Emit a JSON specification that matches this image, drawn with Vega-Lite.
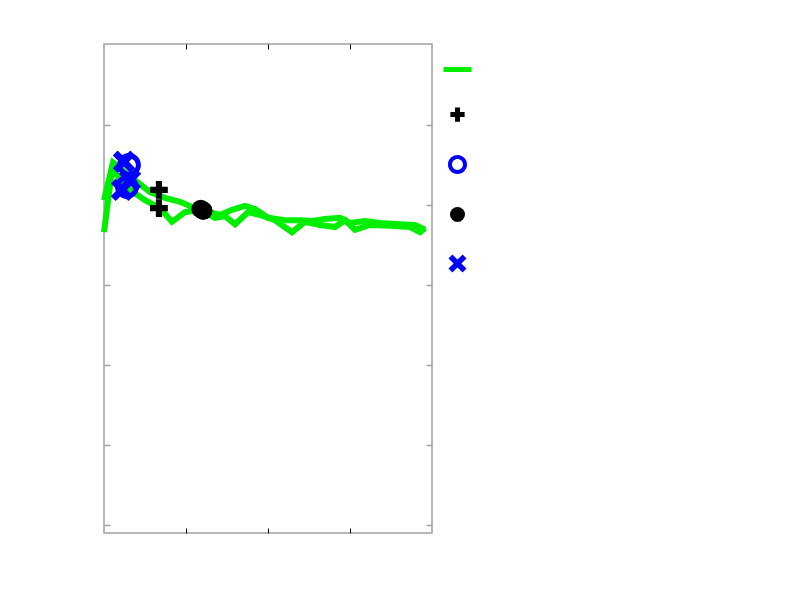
{
  "$schema": "https://vega.github.io/schema/vega-lite/v6.json",
  "width": 328,
  "height": 489,
  "autosize": {"type": "none"},
  "padding": {"left": 104, "top": 44, "right": 368, "bottom": 67},
  "background": "white",
  "config": {"view": {"stroke": "#a0a0a0", "strokeWidth": 1.5}},
  "datasets": {
    "lines": [
      {"part": "A", "x": 0, "y": 4.06},
      {"part": "A", "x": 0.11, "y": 4.53},
      {"part": "A", "x": 0.195, "y": 4.46},
      {"part": "A", "x": 0.378, "y": 4.31},
      {"part": "A", "x": 0.561, "y": 4.16},
      {"part": "A", "x": 0.744, "y": 4.09},
      {"part": "A", "x": 0.927, "y": 4.04},
      {"part": "A", "x": 1.11, "y": 3.96},
      {"part": "A", "x": 1.293, "y": 3.91},
      {"part": "A", "x": 1.415, "y": 3.875},
      {"part": "A", "x": 1.561, "y": 3.94},
      {"part": "A", "x": 1.72, "y": 3.99},
      {"part": "A", "x": 1.841, "y": 3.95},
      {"part": "A", "x": 2.0, "y": 3.84},
      {"part": "A", "x": 2.207, "y": 3.81},
      {"part": "A", "x": 2.39, "y": 3.81},
      {"part": "A", "x": 2.537, "y": 3.8},
      {"part": "A", "x": 2.695, "y": 3.825},
      {"part": "A", "x": 2.878, "y": 3.84},
      {"part": "A", "x": 3.0, "y": 3.775},
      {"part": "A", "x": 3.183, "y": 3.8},
      {"part": "A", "x": 3.366, "y": 3.775},
      {"part": "A", "x": 3.61, "y": 3.76},
      {"part": "A", "x": 3.793, "y": 3.75},
      {"part": "A", "x": 3.915, "y": 3.69},
      {"part": "B", "x": 0, "y": 3.66},
      {"part": "B", "x": 0.098, "y": 4.44},
      {"part": "B", "x": 0.171, "y": 4.36},
      {"part": "B", "x": 0.317, "y": 4.19},
      {"part": "B", "x": 0.5, "y": 4.06},
      {"part": "B", "x": 0.683, "y": 3.96},
      {"part": "B", "x": 0.829, "y": 3.79},
      {"part": "B", "x": 0.988, "y": 3.91},
      {"part": "B", "x": 1.171, "y": 3.94},
      {"part": "B", "x": 1.354, "y": 3.84},
      {"part": "B", "x": 1.476, "y": 3.86},
      {"part": "B", "x": 1.598, "y": 3.76},
      {"part": "B", "x": 1.756, "y": 3.91},
      {"part": "B", "x": 1.902, "y": 3.875},
      {"part": "B", "x": 2.085, "y": 3.81},
      {"part": "B", "x": 2.293, "y": 3.66},
      {"part": "B", "x": 2.451, "y": 3.79},
      {"part": "B", "x": 2.634, "y": 3.75},
      {"part": "B", "x": 2.817, "y": 3.725},
      {"part": "B", "x": 2.939, "y": 3.81},
      {"part": "B", "x": 3.061, "y": 3.69},
      {"part": "B", "x": 3.244, "y": 3.75},
      {"part": "B", "x": 3.488, "y": 3.74},
      {"part": "B", "x": 3.732, "y": 3.725},
      {"part": "B", "x": 3.854, "y": 3.66},
      {"part": "B", "x": 3.915, "y": 3.71}
    ],
    "points": [
      {"series": "plus", "x": 0.67, "y": 4.19},
      {"series": "plus", "x": 0.67, "y": 3.96},
      {"series": "circle", "x": 0.305, "y": 4.5},
      {"series": "circle", "x": 0.28, "y": 4.225},
      {"series": "dot", "x": 1.18, "y": 3.95},
      {"series": "dot", "x": 1.21, "y": 3.93},
      {"series": "x", "x": 0.244, "y": 4.54},
      {"series": "x", "x": 0.22, "y": 4.19},
      {"series": "x", "x": 0.317, "y": 4.31}
    ]
  },
  "layer": [
    {
      "data": {"name": "lines"},
      "mark": {"type": "line", "stroke": "#00ee00", "strokeWidth": 6, "strokeCap": "butt", "strokeJoin": "miter", "opacity": 1},
      "encoding": {
        "x": {"field": "x", "type": "quantitative", "scale": {"domain": [0, 4], "nice": false, "zero": false},
          "axis": {"orient": "bottom", "labels": false, "title": null, "domain": false, "grid": false, "values": [1, 2, 3], "tickSize": -5, "tickColor": "black", "tickWidth": 1}},
        "y": {"field": "y", "type": "quantitative", "scale": {"domain": [-0.1, 6.0125], "nice": false, "zero": false},
          "axis": {"orient": "left", "labels": false, "title": null, "domain": false, "grid": false, "values": [0, 1, 2, 3, 4, 5], "tickSize": -6, "tickColor": "#a0a0a0", "tickWidth": 1.5}},
        "detail": {"field": "part", "type": "nominal"}
      }
    },
    {
      "data": {"name": "points"},
      "mark": {"type": "point", "opacity": 1, "filled": true, "strokeWidth": 0, "size": 350},
      "encoding": {
        "x": {"field": "x", "type": "quantitative",
          "axis": {"orient": "top", "labels": false, "title": null, "domain": false, "grid": false, "values": [1, 2, 3], "tickSize": -5, "tickColor": "black", "tickWidth": 1}},
        "y": {"field": "y", "type": "quantitative",
          "axis": {"orient": "right", "labels": false, "title": null, "domain": false, "grid": false, "values": [0, 1, 2, 3, 4, 5], "tickSize": -6, "tickColor": "#a0a0a0", "tickWidth": 1.5}},
        "fill": {"field": "series", "type": "nominal",
          "scale": {"domain": ["line", "plus", "circle", "dot", "x"], "range": ["#00ee00", "#000000", "#0000ff", "#000000", "#0000ff"]},
          "legend": {"orient": "none", "legendX": 346, "legendY": 18, "title": null, "labelExpr": "''", "rowPadding": 32, "symbolOffset": 0, "padding": 0, "symbolSize": 225, "symbolStrokeWidth": 0}},
        "shape": {"field": "series", "type": "nominal",
          "scale": {"domain": ["line", "plus", "circle", "dot", "x"], "range": [
            "M-1.87,-0.33L1.87,-0.33L1.87,0.33L-1.87,0.33Z",
            "M-0.95,-0.33L-0.33,-0.33L-0.33,-0.95L0.33,-0.95L0.33,-0.33L0.95,-0.33L0.95,0.33L0.33,0.33L0.33,0.95L-0.33,0.95L-0.33,0.33L-0.95,0.33Z",
            "M-1.27,0A1.27,1.27 0 1,1 1.27,0A1.27,1.27 0 1,1 -1.27,0ZM-0.73,0A0.73,0.73 0 1,0 0.73,0A0.73,0.73 0 1,0 -0.73,0Z",
            "circle",
            "M-1.2,-0.68L-0.68,-1.2L0,-0.52L0.68,-1.2L1.2,-0.68L0.52,0L1.2,0.68L0.68,1.2L0,0.52L-0.68,1.2L-1.2,0.68L-0.52,0Z"
          ]},
          "legend": {"orient": "none", "legendX": 346, "legendY": 18, "title": null, "labelExpr": "''", "rowPadding": 32, "symbolOffset": 0, "padding": 0, "symbolSize": 225, "symbolStrokeWidth": 0}}
      }
    }
  ],
  "resolve": {"axis": {"x": "independent", "y": "independent"}}
}
